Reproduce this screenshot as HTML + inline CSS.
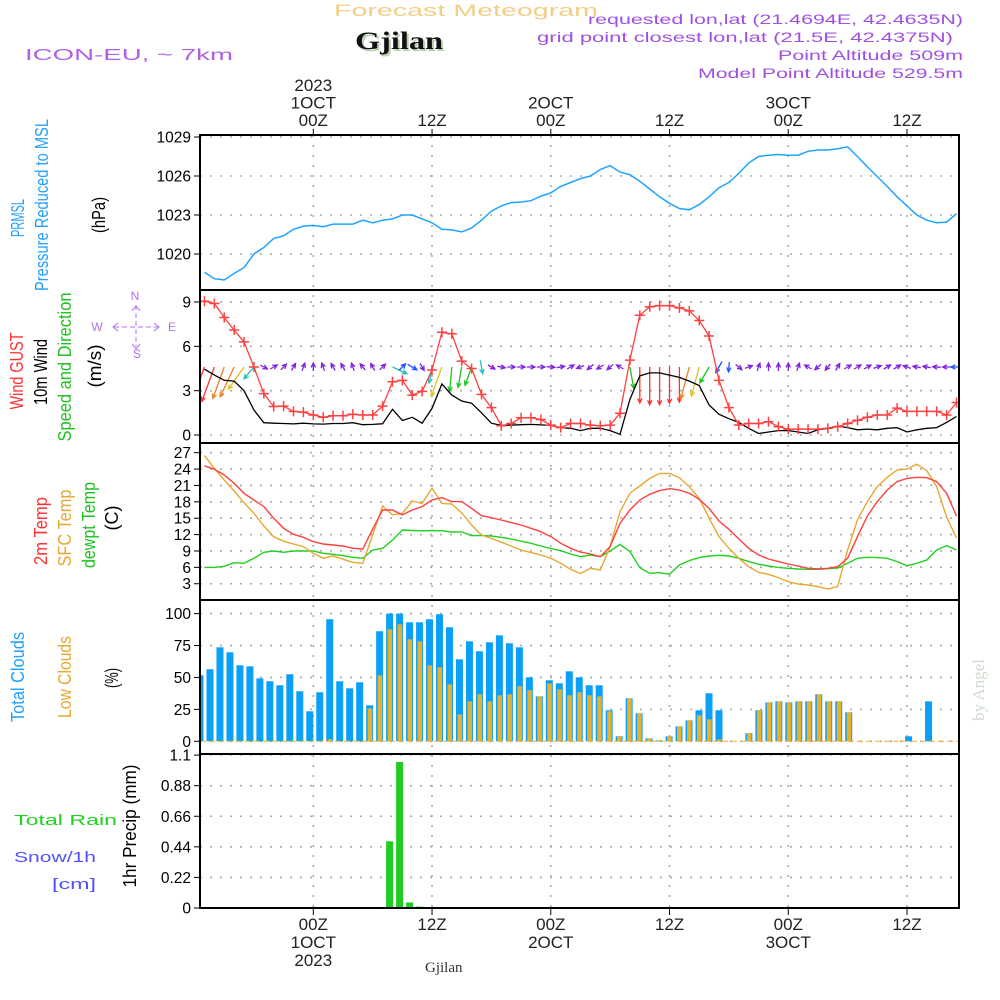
<!DOCTYPE html>
<html><head><meta charset="utf-8">
<style>
html,body{margin:0;padding:0;background:#fff;}
svg{display:block;font-family:"Liberation Sans",sans-serif;}
</style></head>
<body>
<svg id="chart" width="1000" height="1000" viewBox="0 0 1000 1000" xmlns="http://www.w3.org/2000/svg">
<g id="header">
<text x="334" y="16" font-size="17" fill="#f2cf86" textLength="264" lengthAdjust="spacingAndGlyphs">Forecast Meteogram</text>
<text x="357" y="51" font-family="Liberation Serif,serif" font-size="25" font-weight="bold" fill="#b8d0b0" textLength="88" lengthAdjust="spacingAndGlyphs">Gjilan</text>
<text x="355" y="49" font-family="Liberation Serif,serif" font-size="25" font-weight="bold" fill="#111" textLength="88" lengthAdjust="spacingAndGlyphs">Gjilan</text>
<text x="25" y="60" font-size="16" fill="#b060e8" textLength="208" lengthAdjust="spacingAndGlyphs">ICON-EU, ~ 7km</text>
<text x="588" y="24" font-size="14" fill="#a050e0" textLength="375" lengthAdjust="spacingAndGlyphs">requested lon,lat (21.4694E, 42.4635N)</text>
<text x="537" y="42" font-size="14" fill="#a050e0" textLength="416" lengthAdjust="spacingAndGlyphs">grid point closest lon,lat (21.5E, 42.4375N)</text>
<text x="778" y="60" font-size="14" fill="#a050e0" textLength="185" lengthAdjust="spacingAndGlyphs">Point Altitude 509m</text>
<text x="698" y="78" font-size="14" fill="#a050e0" textLength="265" lengthAdjust="spacingAndGlyphs">Model Point Altitude 529.5m</text>
</g>
<g id="labels" font-size="18">
<text transform="translate(24,218) rotate(-90)" text-anchor="middle" fill="#20a0ff" textLength="38" lengthAdjust="spacingAndGlyphs">PRMSL</text>
<text transform="translate(48,205) rotate(-90)" text-anchor="middle" fill="#20a0ff" textLength="172" lengthAdjust="spacingAndGlyphs">Pressure Reduced to MSL</text>
<text transform="translate(105,215) rotate(-90)" text-anchor="middle" fill="#000" textLength="36" lengthAdjust="spacingAndGlyphs">(hPa)</text>
<text transform="translate(23,371) rotate(-90)" text-anchor="middle" fill="#ff3030" textLength="77" lengthAdjust="spacingAndGlyphs">Wind GUST</text>
<text transform="translate(47,372) rotate(-90)" text-anchor="middle" fill="#000" textLength="66" lengthAdjust="spacingAndGlyphs">10m Wind</text>
<text transform="translate(71,367) rotate(-90)" text-anchor="middle" fill="#20c020" textLength="149" lengthAdjust="spacingAndGlyphs">Speed and Direction</text>
<text transform="translate(101,366) rotate(-90)" text-anchor="middle" fill="#000" textLength="43" lengthAdjust="spacingAndGlyphs">(m/s)</text>
<g fill="#b070f0" stroke="#b070f0" font-size="12">
<text x="135" y="300" text-anchor="middle" stroke="none">N</text>
<text x="137" y="358" text-anchor="middle" stroke="none">S</text>
<text x="97" y="331" text-anchor="middle" stroke="none">W</text>
<text x="172" y="331" text-anchor="middle" stroke="none">E</text>
<line x1="136" y1="305" x2="136" y2="347" stroke-dasharray="5,3"/>
<line x1="114" y1="327" x2="158" y2="327" stroke-dasharray="5,3"/>
<path d="M132,311 L136,306 L140,311 M132,344 L136,349 L140,344 M118,323 L113,327 L118,331 M154,323 L159,327 L154,331" fill="none"/>
</g>
<text transform="translate(47,531) rotate(-90)" text-anchor="middle" fill="#ff3030" textLength="68" lengthAdjust="spacingAndGlyphs">2m Temp</text>
<text transform="translate(71,528) rotate(-90)" text-anchor="middle" fill="#e8a830" textLength="77" lengthAdjust="spacingAndGlyphs">SFC Temp</text>
<text transform="translate(95,525) rotate(-90)" text-anchor="middle" fill="#20c020" textLength="86" lengthAdjust="spacingAndGlyphs">dewpt Temp</text>
<text transform="translate(118,518) rotate(-90)" text-anchor="middle" fill="#000" textLength="25" lengthAdjust="spacingAndGlyphs">(C)</text>
<text transform="translate(24,677) rotate(-90)" text-anchor="middle" fill="#20a0ff" textLength="90" lengthAdjust="spacingAndGlyphs">Total Clouds</text>
<text transform="translate(71,677) rotate(-90)" text-anchor="middle" fill="#e8a830" textLength="82" lengthAdjust="spacingAndGlyphs">Low Clouds</text>
<text transform="translate(118,678) rotate(-90)" text-anchor="middle" fill="#000" textLength="20" lengthAdjust="spacingAndGlyphs">(%)</text>
<text transform="translate(136,826) rotate(-90)" text-anchor="middle" fill="#000" textLength="123" lengthAdjust="spacingAndGlyphs">1hr Precip (mm)</text>
<text x="14" y="825" fill="#20d020" font-size="15" textLength="103" lengthAdjust="spacingAndGlyphs">Total    Rain</text>
<text x="14" y="862" fill="#5050ff" font-size="15" textLength="82" lengthAdjust="spacingAndGlyphs">Snow/1h</text>
<text x="52" y="889" fill="#5050ff" font-size="15" textLength="44" lengthAdjust="spacingAndGlyphs">[cm]</text>
<text transform="translate(984,690) rotate(-90)" text-anchor="middle" font-family="Liberation Serif,serif" font-size="17" fill="#d0dcd0">by Angel</text>
<text x="425" y="972" font-family="Liberation Serif,serif" font-size="15" fill="#333">Gjilan</text>
</g>
<g id="grid"></g>
<g id="marks"></g>
<g id="axes"></g>
</svg>
<script>
// ---- data (index i = hour, i-11 hours from 00Z 1 OCT) ----
const timeTickHours = [0, 12, 24, 36, 48, 60];
const timeTickTop = [["2023","1OCT","00Z"],["12Z"],["2OCT","00Z"],["12Z"],["3OCT","00Z"],["12Z"]];
const timeTickBottom = [["00Z","1OCT","2023"],["12Z"],["00Z","2OCT"],["12Z"],["00Z","3OCT"],["12Z"]];
const pressure = [1018.6,1018.1,1018.0,1018.5,1018.95,1020.0,1020.5,1021.2,1021.4,1021.9,1022.15,1022.2,1022.1,1022.3,1022.3,1022.3,1022.6,1022.4,1022.6,1022.7,1023.0,1023.0,1022.7,1022.4,1021.9,1021.85,1021.7,1022.0,1022.6,1023.3,1023.7,1023.95,1024.0,1024.1,1024.45,1024.7,1025.2,1025.5,1025.8,1026.0,1026.5,1026.8,1026.3,1026.1,1025.6,1025.0,1024.4,1023.9,1023.5,1023.4,1023.8,1024.4,1025.1,1025.5,1026.2,1027.0,1027.5,1027.6,1027.65,1027.6,1027.6,1027.9,1028.0,1028.0,1028.1,1028.25,1027.5,1026.7,1025.95,1025.2,1024.4,1023.7,1023.0,1022.6,1022.4,1022.45,1023.1];
const pressureTicks = [1020, 1023, 1026, 1029];
const gust = [9.05,8.9,7.95,7.1,6.3,4.6,2.8,1.93,1.95,1.6,1.55,1.35,1.2,1.3,1.3,1.4,1.35,1.35,1.95,3.6,3.7,2.7,2.95,4.4,6.95,6.85,5.0,4.5,2.75,1.85,0.63,0.78,1.17,1.17,1.05,0.67,0.5,0.78,0.78,0.67,0.63,0.67,1.47,5.07,8.1,8.68,8.75,8.75,8.6,8.4,7.75,6.7,3.7,1.85,0.68,0.78,0.78,0.9,0.57,0.4,0.4,0.4,0.4,0.45,0.57,0.78,1.0,1.2,1.35,1.35,1.82,1.6,1.6,1.6,1.6,1.35,2.2];
const wind = [4.45,4.05,3.7,3.65,3.0,1.7,0.83,0.8,0.78,0.75,0.8,0.75,0.74,0.78,0.78,0.83,0.7,0.72,0.76,1.74,0.98,1.2,0.8,1.8,3.45,2.7,2.3,2.15,1.5,0.8,0.65,0.67,0.7,0.72,0.68,0.65,0.5,0.45,0.3,0.45,0.45,0.3,0.05,2.4,4.0,4.2,4.2,4.05,3.9,3.65,3.35,2.03,1.4,1.1,0.85,0.45,0.1,0.2,0.3,0.3,0.2,0.1,0.35,0.45,0.6,0.5,0.35,0.4,0.35,0.45,0.5,0.2,0.35,0.45,0.5,0.85,1.25];
const windDir = [200,200,200,205,215,220,120,60,45,30,20,0,340,330,330,340,320,330,45,115,45,120,150,190,200,185,190,200,170,120,100,90,90,90,90,95,80,60,250,230,240,230,300,170,180,180,180,180,180,195,195,210,210,185,130,70,20,0,0,0,20,300,230,220,30,60,60,60,70,60,60,290,280,280,275,270,270];
const windTicks = [0, 3, 6, 9];
const temp2m = [24.6,23.96,22.92,21.4,19.56,18.34,17.12,14.98,13.15,12.05,11.5,10.71,10.28,10.1,9.92,9.49,9.37,13.0,16.5,16.5,15.6,16.5,17.12,18.34,18.77,18.04,18.04,16.8,15.47,15.1,14.68,14.19,13.76,13.15,12.54,11.63,10.4,9.49,8.8,8.45,7.96,9.8,14.07,16.5,18.34,19.38,20.05,20.4,20.17,19.56,18.46,16.8,14.5,12.97,11.2,9.49,8.27,7.54,7.05,6.62,6.25,5.83,5.7,5.83,6.13,7.66,11.63,15.4,18.04,20.17,21.7,22.3,22.5,22.43,21.7,19.56,15.4];
const tempSfc = [26.46,24.1,22.0,20.0,17.85,15.9,13.6,11.6,10.8,10.28,9.8,8.57,7.66,8.1,7.5,6.9,6.74,11.93,17.24,15.6,15.9,18.16,17.7,20.48,17.7,17.6,16.0,13.76,11.93,11.3,10.6,9.92,9.18,8.7,8.27,7.66,6.74,5.64,4.85,5.83,5.52,9.8,16.2,19.56,20.9,22.3,23.2,23.2,22.43,20.8,18.65,15.0,11.63,9.49,7.66,6.13,5.1,4.73,4.12,3.38,2.96,2.77,2.47,2.04,2.47,9.18,14.68,18.04,20.8,22.5,23.84,24.0,24.9,23.7,20.8,15.2,11.4];
const dewpt = [6.0,6.0,6.2,6.86,6.74,7.66,8.76,9.0,8.76,9.0,9.0,9.0,8.57,8.4,8.15,7.84,7.66,9.18,9.49,11.0,12.85,12.75,12.7,12.75,12.7,12.48,12.5,11.8,11.85,11.75,11.5,11.2,10.8,10.4,9.92,9.43,9.06,8.45,7.96,8.27,7.96,9.0,10.2,8.88,5.95,4.91,5.03,4.73,6.44,7.23,7.78,8.08,8.2,8.08,7.66,7.05,6.56,6.25,6.0,5.83,5.7,5.64,5.64,5.76,5.89,6.74,7.66,7.84,7.78,7.66,7.05,6.31,6.74,7.35,9.18,9.98,9.18];
const tempTicks = [3, 6, 9, 12, 15, 18, 21, 24, 27];
const totalClouds = [51.7,56.4,73.6,69.7,59.5,58.7,49.3,47,43.9,52.5,39.2,23.5,38.4,95.6,47,41.5,46.2,28.2,86.2,100,100,93.2,93.2,95.6,99.5,89.3,64.2,78.3,70.5,77.5,83,76.8,73.6,50.1,35.2,47.8,45.4,54.8,50.1,43.9,43.9,24.3,3.9,33.7,21.9,2.3,0.8,3.9,11.7,16.4,24.3,37.6,24.3,0,0,6.3,24.3,30.5,31.3,30.5,31.3,31.3,36.8,31.3,31.3,22.7,0,0,0,0,0,3.9,0,31.3,0,0,0];
const lowClouds = [0,0,0,0,0,0,0,0,0,0,0,0,0,1.6,0,0,0,25.8,51.7,87.7,91.6,79.9,78.3,59.5,58,44.6,21.1,31.3,36.8,31.3,36,36.8,43.1,40,35.2,45.4,40.7,36,38.4,36,35.2,23.5,3.9,33.7,21.9,2.3,0.8,3.9,11.7,16.4,20.4,17.2,1.6,0,0,6.3,24.3,30.5,31.3,30.5,31.3,31.3,36.8,31.3,31.3,22.7,0,0,0,0,0,0,0,0,0,0,0];
const cloudTicks = [0, 25, 50, 75, 100];
const precip = [0,0,0,0,0,0,0,0,0,0,0,0,0,0,0,0,0,0,0,0.48,1.05,0.04,0.01,0,0,0,0,0,0,0,0,0,0,0,0,0,0,0,0,0,0,0,0,0,0,0,0,0,0,0,0,0,0,0,0,0,0,0,0,0,0,0,0,0,0,0,0,0,0,0,0,0,0,0,0,0,0];
const precipTicks = [0, 0.22, 0.44, 0.66, 0.88, 1.1];

// ---- scales ----
const PL = 200, PR = 959;
const NS = 'http://www.w3.org/2000/svg';
const xH = h => 313.3 + h * 9.895;
const xL = i => xH(i - 11);
const xB = i => 200 + i * 9.98;
const panels = {
  pres: {top: 135, bot: 290, y: v => 137 + (1029 - v) * 13.0},
  wind: {top: 290, bot: 443, y: v => 435 - v * 14.78},
  temp: {top: 443, bot: 600, y: v => 452.7 + (27 - v) * 5.46},
  cloud:{top: 600, bot: 754, y: v => 741.3 - v * 1.277},
  prec: {top: 754, bot: 908, y: v => 908 - v * 139.0}
};
const gGrid = document.getElementById('grid');
const gMarks = document.getElementById('marks');
const gAxes = document.getElementById('axes');
function mk(tag, attrs, parent) {
  const e = document.createElementNS(NS, tag);
  for (const k in attrs) e.setAttribute(k, attrs[k]);
  parent.appendChild(e);
  return e;
}

const defs = mk('defs', {}, document.getElementById('chart'));
const cp = mk('clipPath', {id: 'plotclip'}, defs);
mk('rect', {x: PL, y: 135, width: PR - PL, height: 908 - 135}, cp);
gMarks.setAttribute('clip-path', 'url(#plotclip)');

function yAxis(p, ticks, fmt, name) {
  ticks.forEach(t => {
    const y = p.y(t);
    const gl = mk('line', {x1: PL, x2: PR, y1: y, y2: y, stroke: '#aaa', 'stroke-width': 1.6, 'stroke-dasharray': '2,8'}, gGrid);
    
    
    mk('line', {x1: PL - 6, x2: PL, y1: y, y2: y, stroke: '#000', 'stroke-width': 1}, gAxes);
    const tx = mk('text', {x: PL - 9, y: y + 5.5, 'text-anchor': 'end', 'font-size': 15.5, fill: '#000'}, gAxes);
    
    
    tx.textContent = fmt(t);
  });
}
yAxis(panels.pres, pressureTicks, String, 'pressure');
yAxis(panels.wind, windTicks, String, 'wind');
yAxis(panels.temp, tempTicks, String, 'temp');
yAxis(panels.cloud, cloudTicks, String, 'cloud');
yAxis(panels.prec, precipTicks, String, 'precip');

timeTickHours.forEach((h, k) => {
  const x = xH(h);
  const vl = mk('line', {x1: x, x2: x, y1: 135, y2: 908, stroke: '#aaa', 'stroke-width': 1.6, 'stroke-dasharray': '2,8'}, gGrid);
  
  
  mk('line', {x1: x, x2: x, y1: 129, y2: 135, stroke: '#000'}, gAxes);
  mk('line', {x1: x, x2: x, y1: 908, y2: 915, stroke: '#000'}, gAxes);
  const top = timeTickTop[k];
  top.forEach((s, j) => {
    const t = mk('text', {x: x, y: 126 - (top.length - 1 - j) * 17.5, 'text-anchor': 'middle', 'font-size': 17, fill: '#222'}, gAxes);
    
    
    t.textContent = s;
  });
  timeTickBottom[k].forEach((s, j) => {
    const t = mk('text', {x: x, y: 930 + j * 18, 'text-anchor': 'middle', 'font-size': 17, fill: '#222'}, gAxes);
    
    
    t.textContent = s;
  });
});

Object.keys(panels).forEach(k => {
  const p = panels[k];
  const r = mk('rect', {x: PL, y: p.top, width: PR - PL, height: p.bot - p.top, fill: 'none', stroke: '#000', 'stroke-width': 2}, gAxes);
  
  
});

function line(arr, p, color, name, w) {
  const d = arr.map((v, i) => (i ? 'L' : 'M') + xL(i).toFixed(1) + ',' + p.y(v).toFixed(1)).join(' ');
  const el = mk('path', {d: d, fill: 'none', stroke: color, 'stroke-width': w || 1.3}, gMarks);
  
  
}
line(pressure, panels.pres, '#1ea4ff', 'pressure-line', 1.5);

function speedColor(s) {
  if (s >= 3.9) return '#ff3030';
  if (s >= 3.5) return '#f08020';
  if (s >= 3.0) return '#e0c020';
  if (s >= 2.0) return '#20c020';
  if (s >= 1.5) return '#20c0c0';
  if (s >= 0.9) return '#2050ff';
  return '#8020e0';
}
const gArrows = mk('g', {}, gMarks);


wind.forEach((s, i) => {
  const len = Math.max(8, s * 9);
  const a = windDir[i] * Math.PI / 180;
  const dx = Math.sin(a) * len, dy = -Math.cos(a) * len;
  const cx = xL(i), cy = 367;
  let x0, y0;
  if (len > 14) { x0 = cx; y0 = cy; } else { x0 = cx - dx / 2; y0 = cy - dy / 2; }
  const x1 = x0 + dx, y1 = y0 + dy;
  const hl = 5, ha = 0.45;
  const bx = Math.atan2(y0 - y1, x0 - x1);
  const h1x = x1 + hl * Math.cos(bx + ha), h1y = y1 + hl * Math.sin(bx + ha);
  const h2x = x1 + hl * Math.cos(bx - ha), h2y = y1 + hl * Math.sin(bx - ha);
  const el = mk('path', {d: `M${x0.toFixed(1)},${y0.toFixed(1)} L${x1.toFixed(1)},${y1.toFixed(1)} M${h1x.toFixed(1)},${h1y.toFixed(1)} L${x1.toFixed(1)},${y1.toFixed(1)} L${h2x.toFixed(1)},${h2y.toFixed(1)}`, fill: 'none', stroke: speedColor(s), 'stroke-width': 1.3}, gArrows);
  
  
});
line(wind, panels.wind, '#000', 'wind-10m-line', 1.3);
line(gust, panels.wind, '#ff4040', 'wind-gust-line', 1.3);
gust.forEach((v, i) => {
  const x = xL(i), y = panels.wind.y(v);
  const el = mk('path', {d: `M${x - 5},${y} H${x + 5} M${x},${y - 5} V${y + 5}`, stroke: '#ff4040', 'stroke-width': 1.5}, gMarks);
  
  
});

line(dewpt, panels.temp, '#20d020', 'dewpoint-line', 1.4);
line(tempSfc, panels.temp, '#e8a830', 'sfc-temp-line', 1.4);
line(temp2m, panels.temp, '#ff4040', 'temp-2m-line', 1.4);

totalClouds.forEach((v, i) => {
  const y = panels.cloud.y(v), y0 = panels.cloud.y(0);
  const el = mk('rect', {x: xB(i) - 3.5, y: y, width: 7, height: Math.max(0, y0 - y), fill: '#0aa0f8'}, gMarks);
  
  
});
lowClouds.forEach((v, i) => {
  const y = panels.cloud.y(v), y0 = panels.cloud.y(0);
  const el = mk('rect', {x: xB(i) - 2, y: y, width: 4.5, height: Math.max(0, y0 - y), fill: '#e8b030'}, gMarks);
  
  
});
const zl = mk('line', {x1: PL, x2: PR, y1: panels.cloud.y(0), y2: panels.cloud.y(0), stroke: '#e8b030', 'stroke-width': 1, 'stroke-dasharray': '6,3'}, gMarks);



precip.forEach((v, i) => {
  if (v <= 0) return;
  const y = panels.prec.y(v), y0 = panels.prec.y(0);
  const el = mk('rect', {x: xB(i) - 3.5, y: y, width: 7, height: Math.max(1, y0 - y), fill: '#20cc20'}, gMarks);
  
  
});
</script>
</body></html>
